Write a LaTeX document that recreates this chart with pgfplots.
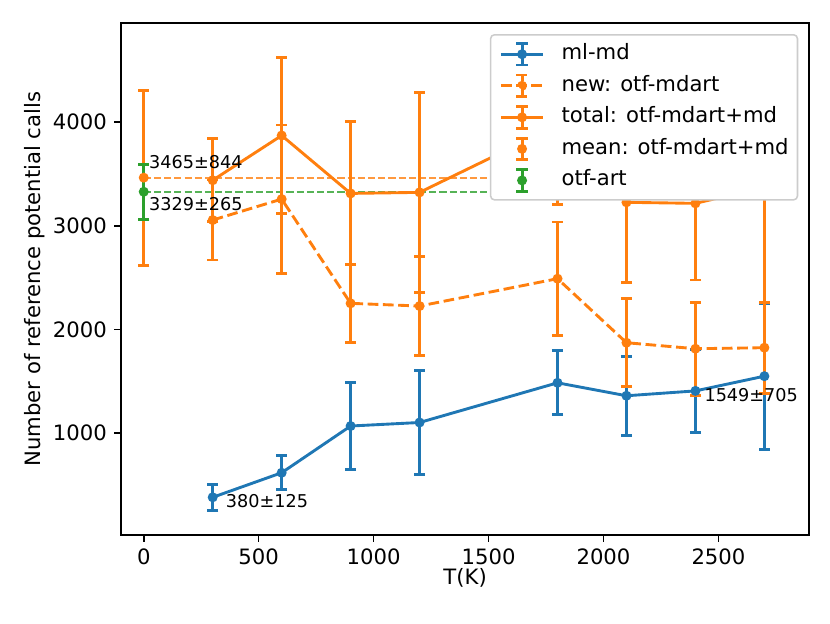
\documentclass[border=0pt]{standalone}
\usepackage{fontspec}
\setmainfont{DejaVu Sans}
\usepackage{pgfplots}
\pgfplotsset{compat=1.18}
\definecolor{tabblue}{HTML}{1F77B4}
\definecolor{taborange}{HTML}{FF7F0E}
\definecolor{tabgreen}{HTML}{2CA02C}
\newcommand{\legimg}[3]{%
  \ifnum#3=1 \draw[#1, line width=1.5pt, #2] (0pt,0pt) -- (22pt,0pt);\fi
  \draw[#1, line width=1.5pt] (11pt,-5.6pt) -- (11pt,5.6pt) (8pt,-5.6pt) -- (14pt,-5.6pt) (8pt,5.6pt) -- (14pt,5.6pt);
  \fill[#1] (11pt,0pt) circle (1.8pt);}
\pgfplotsset{
  errstyle/.style={line width=1.5pt, mark=*, mark size=1.8pt, mark options={solid, fill=#1, draw=#1},
    error bars/.cd, y dir=both, y explicit,
    error bar style={solid, line width=1.5pt, #1},
    error mark=-,
    error mark options={rotate=90, solid, line width=1.5pt, mark size=2.9pt, #1},
    /pgfplots/.cd},
}
\begin{document}
\fontsize{11}{13}\selectfont
\begin{tikzpicture}
\begin{axis}[
  at={(0,0)}, anchor=south west,
  scale only axis, width=357.8pt, height=266.2pt,
  xmin=-99, xmax=2895, ymin=15, ymax=4957,
  xtick={0,500,1000,1500,2000,2500}, ytick={1000,2000,3000,4000},
  tick align=outside, tick pos=left,
  major tick length=3.5pt,
  every tick/.style={black, line width=0.8pt},
  axis line style={line width=0.8pt},
  /pgf/number format/assume math mode=true,
  /pgf/number format/1000 sep={},
  ticklabel style={font=\fontsize{11}{13}\selectfont},
  xlabel={T(K)}, ylabel={Number of reference potential calls},
  label style={font=\fontsize{11}{13}\selectfont},
  xlabel style={at={(axis description cs:0.5,-0.0841)}, anchor=center},
  ylabel style={at={(axis description cs:-0.1249,0.5)}, anchor=center},
  legend style={at={(1,1)}, anchor=north east, xshift=-5.7pt, yshift=-5.7pt,
    draw=black!20, fill=white,
    rounded corners=2pt, line width=0.8pt, inner xsep=4.6pt, inner ysep=3.75pt,
    font=\fontsize{11}{13}\selectfont, row sep=3.7pt, column sep=8.8pt,
    nodes={inner sep=0pt, text height=8pt, text depth=2.5pt}},
  legend cell align=left,
]
% horizontal reference lines
\addplot[taborange, line width=1pt, opacity=0.8, dash pattern=on 3.7pt off 1.6pt, forget plot] coordinates {(0,3465) (2700,3465)};
\addplot[tabgreen, line width=1pt, opacity=0.8, dash pattern=on 3.7pt off 1.6pt, forget plot] coordinates {(0,3329) (2700,3329)};

\addplot[tabblue, legend image code/.code={\legimg{tabblue}{solid}{1}}, errstyle=tabblue]
coordinates {
(300,380) +- (0,125)
(600,617) +- (0,165)
(900,1068) +- (0,420)
(1200,1102) +- (0,505)
(1800,1485) +- (0,310)
(2100,1360) +- (0,380)
(2400,1407) +- (0,402)
(2700,1549) +- (0,705)
};
\addlegendentry{ml-md}

\addplot[taborange, dash pattern=on 5.55pt off 2.4pt, legend image code/.code={\legimg{taborange}{dash pattern=on 5.55pt off 2.4pt}{1}}, errstyle=taborange]
coordinates {
(300,3056) +- (0,386)
(600,3258) +- (0,715)
(900,2252) +- (0,376)
(1200,2226) +- (0,476)
(1800,2490) +- (0,547)
(2100,1872) +- (0,425)
(2400,1814) +- (0,450)
(2700,1824) +- (0,438)
};
\addlegendentry{new: otf-mdart}

\addplot[taborange, legend image code/.code={\legimg{taborange}{solid}{1}}, errstyle=taborange]
coordinates {
(300,3440) +- (0,400)
(600,3872) +- (0,756)
(900,3313) +- (0,690)
(1200,3323) +- (0,968)
(1800,3970) +- (0,760)
(2100,3227) +- (0,772)
(2400,3217) +- (0,740)
(2700,3373) +- (0,1111)
};
\addlegendentry{total: otf-mdart+md}

\addplot[taborange, legend image code/.code={\legimg{taborange}{solid}{0}}, errstyle=taborange]
coordinates {(0,3465) +- (0,844)};
\addlegendentry{mean: otf-mdart+md}

\addplot[tabgreen, legend image code/.code={\legimg{tabgreen}{solid}{0}}, errstyle=tabgreen]
coordinates {(0,3329) +- (0,265)};
\addlegendentry{otf-art}

\node[anchor=base west, inner sep=0pt, font=\fontsize{9.17}{11}\selectfont] at (axis cs:22,3555) {3465±844};
\node[anchor=base west, inner sep=0pt, font=\fontsize{9.17}{11}\selectfont] at (axis cs:22,3150) {3329±265};
\node[anchor=base west, inner sep=0pt, font=\fontsize{9.17}{11}\selectfont] at (axis cs:356,283) {380±125};
\node[anchor=base west, inner sep=0pt, font=\fontsize{9.17}{11}\selectfont] at (axis cs:2438,1309) {1549±705};
\end{axis}
\pgfresetboundingbox
\path[use as bounding box] (-62.9pt,-45.7pt) rectangle ++(431.5pt,323.9pt);
\end{tikzpicture}
\end{document}
